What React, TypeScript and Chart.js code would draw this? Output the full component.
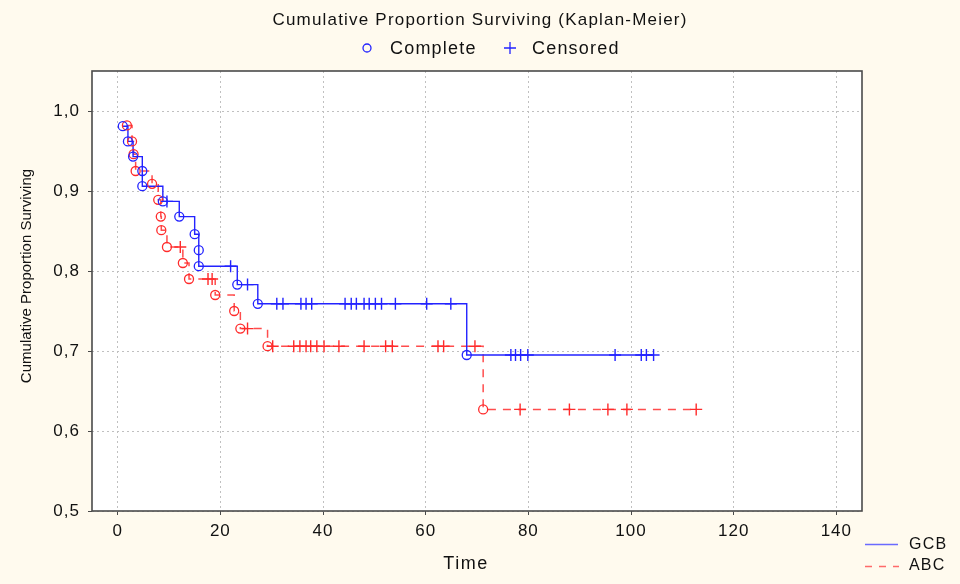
import React, { useEffect, useRef } from 'react';
import { Chart, registerables } from 'chart.js';

Chart.register(...registerables);

// ---------- data ----------
const xTicks = [0, 20, 40, 60, 80, 100, 120, 140];
const yTicks = [0.5, 0.6, 0.7, 0.8, 0.9, 1.0];

// GCB (solid blue)
const gcbEventTimes = [1, 2, 3, 4.8, 4.8, 8.8, 12, 15, 15.8, 15.8, 23.3, 27.3, 68];
const gcbEventSurvival = [0.981, 0.962, 0.943, 0.925, 0.906, 0.887, 0.868, 0.846, 0.826, 0.806, 0.783, 0.759, 0.695];
const gcbCensorTimes = [
  9.6, 22, 25.3, 31, 32.2, 35.7, 36.7, 37.8, 44.3, 45.5, 46.5, 48, 49, 50.2, 51.4, 54.1, 60.2, 64.9,
  76.6, 77.5, 78.5, 79.9, 96.9, 102, 103, 104.4,
];

// ABC (dashed red)
const abcEventTimes = [1.8, 2.8, 3.1, 3.5, 6.7, 7.9, 8.4, 8.5, 9.6, 12.7, 13.9, 19, 22.7, 23.9, 29.2, 71.2];
const abcEventSurvival = [0.982, 0.962, 0.946, 0.925, 0.909, 0.889, 0.868, 0.851, 0.830, 0.810, 0.790, 0.770, 0.750, 0.728, 0.706, 0.627];
const abcCensorTimes = [
  12.2, 17.6, 18.4, 25.3, 30.2, 34.3, 35.5, 36.7, 37.6, 38.8, 40.2, 43.1, 48, 52.2, 53.5, 62.4, 63.5, 69.6,
  78.4, 88, 95.5, 99.2, 112.7,
];

// ---------- style ----------
const FONT = '"Liberation Sans", Arial, Helvetica, sans-serif';
const BLUE = '#2323ff';
const RED = '#ff2b2b';
const BG = '#fffaee';

type P = { x: number; y: number };

function kmSteps(times: number[], levels: number[], censors: number[]): P[] {
  const pts: P[] = [{ x: times[0], y: levels[0] }];
  let prev = levels[0];
  for (let i = 1; i < times.length; i++) {
    pts.push({ x: times[i], y: prev });
    pts.push({ x: times[i], y: levels[i] });
    prev = levels[i];
  }
  const end = Math.max(times[times.length - 1], ...censors);
  pts.push({ x: end, y: prev });
  return pts;
}

function levelAt(times: number[], levels: number[], t: number): number {
  let s = 1;
  for (let i = 0; i < times.length; i++) if (times[i] <= t) s = levels[i];
  return s;
}

function eventPoints(times: number[], levels: number[]): P[] {
  return times.map((t, i) => ({ x: t, y: levels[i] }));
}

function censorPoints(times: number[], levels: number[], censors: number[]): P[] {
  return censors.map((t) => ({ x: t, y: levelAt(times, levels, t) }));
}

const decor = {
  id: 'decor',
  beforeDraw(chart: any) {
    const { ctx, chartArea: a, width, height } = chart;
    ctx.save();
    ctx.fillStyle = BG;
    ctx.fillRect(0, 0, width, height);
    ctx.fillStyle = '#ffffff';
    ctx.fillRect(a.left, a.top, a.right - a.left, a.bottom - a.top);
    ctx.restore();
    (ctx as any).letterSpacing = '1px';
  },
  afterDraw(chart: any) {
    const { ctx, chartArea: a } = chart;
    ctx.save();
    // frame
    ctx.strokeStyle = '#4a4a4a';
    ctx.lineWidth = 1.6;
    ctx.strokeRect(a.left, a.top, a.right - a.left, a.bottom - a.top);

    ctx.fillStyle = '#111';
    // title
    ctx.font = `17px ${FONT}`;
    (ctx as any).letterSpacing = '1.2px';
    ctx.textAlign = 'center';
    ctx.textBaseline = 'middle';
    ctx.fillText('Cumulative Proportion Surviving (Kaplan-Meier)', 480, 20);

    // top legend
    ctx.font = `18px ${FONT}`;
    (ctx as any).letterSpacing = '1.2px';
    ctx.textAlign = 'left';
    ctx.strokeStyle = BLUE;
    ctx.lineWidth = 1.3;
    ctx.beginPath();
    ctx.arc(367, 48, 4, 0, Math.PI * 2);
    ctx.stroke();
    ctx.fillText('Complete', 390, 49);
    ctx.beginPath();
    ctx.moveTo(504, 48);
    ctx.lineTo(516, 48);
    ctx.moveTo(510, 42);
    ctx.lineTo(510, 54);
    ctx.stroke();
    ctx.fillText('Censored', 532, 49);

    // x title
    ctx.textAlign = 'center';
    (ctx as any).letterSpacing = '1.5px';
    ctx.fillText('Time', 466, 564);

    // y title
    ctx.save();
    ctx.font = `15px ${FONT}`;
    (ctx as any).letterSpacing = '0px';
    ctx.translate(27, 276);
    ctx.rotate(-Math.PI / 2);
    ctx.fillText('Cumulative Proportion Surviving', 0, 0);
    ctx.restore();

    // bottom-right legend
    ctx.font = `16px ${FONT}`;
    (ctx as any).letterSpacing = '1.2px';
    ctx.textAlign = 'left';
    ctx.lineWidth = 1.5;
    ctx.strokeStyle = '#6a6aff';
    ctx.beginPath();
    ctx.moveTo(865, 544.5);
    ctx.lineTo(898, 544.5);
    ctx.stroke();
    ctx.fillText('GCB', 909, 545);
    ctx.strokeStyle = '#ff6a6a';
    ctx.setLineDash([7, 7]);
    ctx.beginPath();
    ctx.moveTo(865, 566.5);
    ctx.lineTo(899, 566.5);
    ctx.stroke();
    ctx.setLineDash([]);
    ctx.fillText('ABC', 909, 566);
    ctx.restore();
  },
};

export default function App() {
  const ref = useRef<HTMLCanvasElement | null>(null);

  useEffect(() => {
    if (!ref.current) return;
    const chart = new Chart(ref.current, {
      type: 'scatter',
      data: {
        datasets: [
          {
            label: 'GCB complete',
            data: eventPoints(gcbEventTimes, gcbEventSurvival),
            showLine: false,
            pointStyle: 'circle',
            pointRadius: 4.5,
            borderColor: BLUE,
            backgroundColor: 'rgba(0,0,0,0)',
            borderWidth: 1.3,
            order: 0,
          },
          {
            label: 'GCB censored',
            data: censorPoints(gcbEventTimes, gcbEventSurvival, gcbCensorTimes),
            showLine: false,
            pointStyle: 'cross',
            pointRadius: 6,
            borderColor: BLUE,
            borderWidth: 1.4,
            order: 0,
          },
          {
            label: 'ABC complete',
            data: eventPoints(abcEventTimes, abcEventSurvival),
            showLine: false,
            pointStyle: 'circle',
            pointRadius: 4.5,
            borderColor: RED,
            backgroundColor: 'rgba(0,0,0,0)',
            borderWidth: 1.3,
            order: 0,
          },
          {
            label: 'ABC censored',
            data: censorPoints(abcEventTimes, abcEventSurvival, abcCensorTimes),
            showLine: false,
            pointStyle: 'cross',
            pointRadius: 6,
            borderColor: RED,
            borderWidth: 1.4,
            order: 0,
          },
          {
            label: 'GCB',
            data: kmSteps(gcbEventTimes, gcbEventSurvival, gcbCensorTimes),
            showLine: true,
            pointRadius: 0,
            borderColor: BLUE,
            borderWidth: 1.4,
            order: 1,
          },
          {
            label: 'ABC',
            data: kmSteps(abcEventTimes, abcEventSurvival, abcCensorTimes),
            showLine: true,
            pointRadius: 0,
            borderColor: '#ff4d4d',
            borderWidth: 1.5,
            borderDash: [8, 7],
            order: 1,
          },
        ],
      },
      options: {
        responsive: false,
        animation: false,
        events: [],
        devicePixelRatio: 1,
        layout: { padding: { left: 0, top: 71, right: 98, bottom: 0 } },
        plugins: {
          legend: { display: false },
          title: { display: false },
          tooltip: { enabled: false },
        },
        scales: {
          x: {
            type: 'linear',
            min: -5,
            max: 145,
            afterFit: (s: any) => {
              s.height = 73;
            },
            afterBuildTicks: (s: any) => {
              s.ticks = xTicks.map((v) => ({ value: v }));
            },
            grid: {
              color: '#c0c0c0',
              lineWidth: 1,
              tickLength: 4,
              tickColor: '#4a4a4a',
              tickBorderDash: [],
            },
            border: { display: false, dash: [2, 3] },
            ticks: {
              color: '#111',
              padding: 6,
              font: { family: FONT, size: 17 },
              maxRotation: 0,
              callback: (v: any) => String(v),
            },
          },
          y: {
            type: 'linear',
            min: 0.5,
            max: 1.05,
            afterFit: (s: any) => {
              s.width = 92;
            },
            afterBuildTicks: (s: any) => {
              s.ticks = yTicks.map((v) => ({ value: v }));
            },
            grid: {
              color: '#c0c0c0',
              lineWidth: 1,
              tickLength: 4,
              tickColor: '#4a4a4a',
              tickBorderDash: [],
            },
            border: { display: false, dash: [2, 3] },
            ticks: {
              color: '#111',
              padding: 8,
              font: { family: FONT, size: 17 },
              callback: (v: any) => Number(v).toFixed(1).replace('.', ','),
            },
          },
        },
      },
      plugins: [decor],
    });
    return () => chart.destroy();
  }, []);

  return (
    <div style={{ position: 'fixed', left: 0, top: 0, width: 960, height: 584 }}>
      <canvas ref={ref} width={960} height={584} style={{ width: 960, height: 584, display: 'block' }} />
    </div>
  );
}
